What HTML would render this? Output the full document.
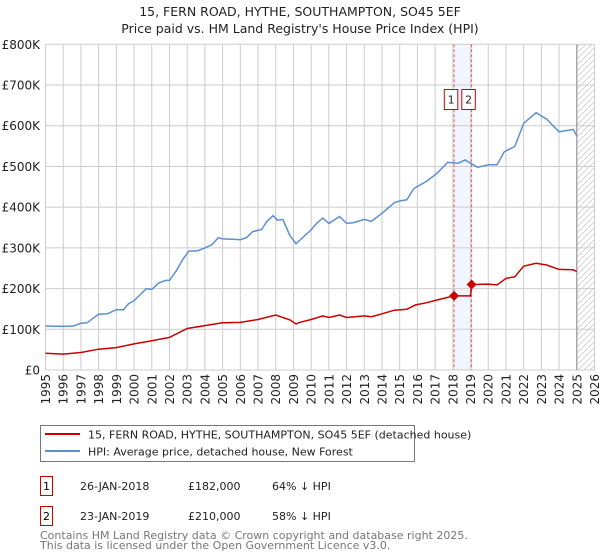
<!DOCTYPE html>
<html><head><meta charset="utf-8"><style>
body{margin:0;background:#fff;}
svg{display:block;font-family:"DejaVu Sans","Liberation Sans",sans-serif;}
</style></head><body>
<svg id="c" width="600" height="560" viewBox="0 0 600 560" xmlns="http://www.w3.org/2000/svg">
<defs><pattern id="hatch" width="6" height="6" patternUnits="userSpaceOnUse"><path d="M0,6 L6,0" stroke="#ccc" stroke-width="0.8"/></pattern></defs>
<text x="300" y="16" text-anchor="middle" font-size="12.5" fill="#222">15, FERN ROAD, HYTHE, SOUTHAMPTON, SO45 5EF</text>
<text x="300" y="33" text-anchor="middle" font-size="12.5" fill="#222">Price paid vs. HM Land Registry's House Price Index (HPI)</text>
<g id="grid"></g>
<g id="marks"></g>
<g id="xlabels"></g>
<g id="ylabels"></g>
<rect x="40.5" y="425.5" width="374" height="36" fill="#fff" stroke="#777"/>
<line x1="45" y1="434" x2="80" y2="434" stroke="#cc0000" stroke-width="2"/>
<text x="88" y="438.5" font-size="11" fill="#222">15, FERN ROAD, HYTHE, SOUTHAMPTON, SO45 5EF (detached house)</text>
<line x1="45" y1="451" x2="80" y2="451" stroke="#5b8fd4" stroke-width="2"/>
<text x="88" y="455.5" font-size="11" fill="#222">HPI: Average price, detached house, New Forest</text>
<g>
<rect x="40.5" y="476.5" width="12" height="19" fill="#fff" stroke="#cc0000"/>
<text x="46.5" y="490" text-anchor="middle" font-size="11">1</text>
<text x="80" y="490" font-size="11" fill="#222">26-JAN-2018</text>
<text x="188" y="490" font-size="11" fill="#222">£182,000</text>
<text x="272" y="490" font-size="11" fill="#222">64% ↓ HPI</text>
</g>
<g>
<rect x="40.5" y="506.5" width="12" height="19" fill="#fff" stroke="#cc0000"/>
<text x="46.5" y="520" text-anchor="middle" font-size="11">2</text>
<text x="80" y="520" font-size="11" fill="#222">23-JAN-2019</text>
<text x="188" y="520" font-size="11" fill="#222">£210,000</text>
<text x="272" y="520" font-size="11" fill="#222">58% ↓ HPI</text>
</g>
<text x="40" y="539" font-size="11" fill="#777">Contains HM Land Registry data © Crown copyright and database right 2025.</text>
<text x="40" y="549" font-size="11" fill="#777">This data is licensed under the Open Government Licence v3.0.</text>
</svg>
<script>
const hpiYears=[1995,1996,1996.6,1997,1997.35,1998,1998.5,1999,1999.4,1999.7,2000,2000.3,2000.7,2001,2001.4,2001.8,2002,2002.4,2002.75,2003.1,2003.6,2004,2004.4,2004.75,2005,2005.6,2006,2006.35,2006.7,2007.2,2007.5,2007.85,2008.1,2008.4,2008.8,2009.15,2009.34,2010,2010.3,2010.66,2011,2011.6,2012,2012.4,2013,2013.4,2014,2014.7,2015,2015.4,2015.8,2016.5,2017.1,2017.7,2018.3,2018.7,2019,2019.4,2020,2020.5,2020.9,2021.5,2022,2022.7,2023.3,2024,2024.8,2025];
const hpiValues=[108,107,108,115,116,137,138,148,148,163,170,183,200,198,214,220,220,245,272,292,293,300,308,325,322,321,320,325,340,345,365,379,368,370,330,310,318,344,360,373,360,377,360,362,370,365,385,411,415,418,446,463,483,510,508,516,508,498,504,504,536,549,606,632,616,585,591,575];
const priceYears=[1995,1996,1997,1998,1999,2000,2001,2002,2003,2004,2005,2006,2007,2008,2008.8,2009.15,2009.34,2010,2010.66,2011,2011.6,2012,2013,2013.4,2014,2014.7,2015.4,2015.9,2016.5,2017.1,2018.07,2019.0,2019.06,2020,2020.5,2021,2021.5,2022,2022.7,2023.3,2024,2024.8,2025];
const priceValues=[41,39,43,51,55,64,72,80,102,109,116,117,124,135,123,113,117,124,133,129,135,129,133,131,138,147,149,160,165,172,182,182,210,211,209,225,229,255,262,258,247,246,242];
const saleYears=[2018.07,2019.06];
const saleValues=[182,210];
const saleLabels=["1","2"];
const yTicks=[0,100,200,300,400,500,600,700,800];
const yTickLabels=["£0","£100K","£200K","£300K","£400K","£500K","£600K","£700K","£800K"];
const xTicks=[1995,1996,1997,1998,1999,2000,2001,2002,2003,2004,2005,2006,2007,2008,2009,2010,2011,2012,2013,2014,2015,2016,2017,2018,2019,2020,2021,2022,2023,2024,2025,2026];
const dataEndYear=2025;

const NS="http://www.w3.org/2000/svg";
const L=45.5,R=594.5,T=44.3,B=370;
const X=y=>L+(y-1995)/(2026-1995)*(R-L);
const Y=v=>B-v/800*(B-T);
function mk(tag,attrs,parent){const e=document.createElementNS(NS,tag);for(const k in attrs)e.setAttribute(k,attrs[k]);parent.appendChild(e);return e;}
const grid=document.getElementById('grid'),marks=document.getElementById('marks'),xl=document.getElementById('xlabels'),yl=document.getElementById('ylabels');
const bg=mk('rect',{x:L,y:T,width:R-L,height:B-T,fill:'#fff'},grid);


const band=mk('rect',{x:X(saleYears[0]),y:T,width:X(saleYears[1])-X(saleYears[0]),height:B-T,fill:'#eef3fc',opacity:0.8},grid);


xTicks.forEach(t=>{const l=mk('line',{x1:X(t),x2:X(t),y1:T,y2:B,stroke:'#ccc','stroke-width':1},grid);


const tx=mk('text',{transform:`translate(${X(t)+4.5},${B+4}) rotate(-90)`,'text-anchor':'end','font-size':'12',fill:'#222'},xl);tx.textContent=t;

});
yTicks.forEach((t,i)=>{const l=mk('line',{x1:L,x2:R,y1:Y(t),y2:Y(t),stroke:'#ccc','stroke-width':1},grid);


const tx=mk('text',{x:40,y:Y(t)+4.5,'text-anchor':'end','font-size':'12',fill:'#222'},yl);tx.textContent=yTickLabels[i];

});
const hz=mk('rect',{x:X(dataEndYear),y:T,width:R-X(dataEndYear),height:B-T,fill:'url(#hatch)',stroke:'none'},grid);


const el=mk('line',{x1:X(dataEndYear),x2:X(dataEndYear),y1:T,y2:B,stroke:'#999','stroke-width':1.2},grid);


saleYears.forEach(s=>{const d=mk('line',{x1:X(s),x2:X(s),y1:T,y2:B,stroke:'#e06060','stroke-width':1,'stroke-dasharray':'3,2'},grid);

});
function path(xs,vs){return xs.map((x,i)=>(i?'L':'M')+X(x).toFixed(1)+','+Y(vs[i]).toFixed(1)).join(' ');}
const hp=mk('path',{d:path(hpiYears,hpiValues),fill:'none',stroke:'#5b8fd4','stroke-width':1.5},marks);


const pp=mk('path',{d:path(priceYears,priceValues),fill:'none',stroke:'#cc0000','stroke-width':1.5},marks);


const mid=(X(saleYears[0])+X(saleYears[1]))/2;
saleYears.forEach((s,i)=>{const cx=X(s),cy=Y(saleValues[i]);
const d=mk('path',{d:`M${cx},${cy-5} L${cx+5},${cy} L${cx},${cy+5} L${cx-5},${cy} Z`,fill:'#cc0000'},marks);


const bx=i===0?mid-18.5:mid-1;
const g=mk('rect',{x:bx.toFixed(1),y:89.5,width:13.5,height:20,fill:'#fff',stroke:'#cc0000'},marks);


const t=mk('text',{x:(bx+6.75).toFixed(1),y:103.5,'text-anchor':'middle','font-size':'11',fill:'#222'},marks);t.textContent=saleLabels[i];

});
</script>
</body></html>
